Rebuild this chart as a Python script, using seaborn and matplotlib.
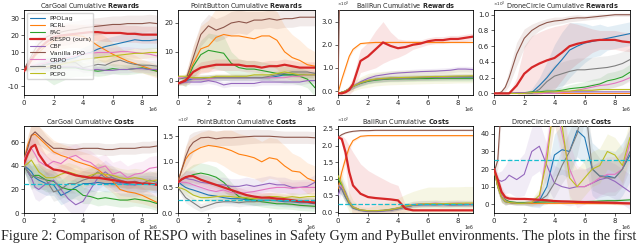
import numpy as np
import seaborn as sns
import matplotlib.pyplot as plt
from matplotlib.lines import Line2D
from matplotlib.ticker import FormatStrFormatter, FuncFormatter

# training steps (x 1e6)
steps = [0, 0.25, 0.5, 0.75, 1, 1.5, 2, 2.5, 3, 3.5, 4, 4.5, 5, 5.5, 6, 6.5, 7, 7.5, 8, 8.5, 9]
methods = ["PPOLag", "RCRL", "FAC", "RESPO (ours)", "CBF", "Vanilla PPO", "CRPO", "P3O", "PCPO"]

# ---- CarGoal rewards
cargoal_rew = [
    [0, 0.5, 1, 1.5, 2, 3, 4, 5, 6, 7, 9, 10, 12, 13.5, 14.5, 15.5, 16.5, 17.5, 17, 17, 17.5],
    [0, 2, 5, 8, 10, 14, 17, 19, 20, 20, 19.5, 17, 14, 11.5, 9, 7, 5, 3.5, 2, 0.5, -1],
    [0, 0, 0.5, 0.5, 1, 1, 1, 1, 1, 1, 0, -0.5, -1, -0.5, 0.5, 0, 0, 0.5, 1, 0, -1],
    [-1, 2, 6, 9, 12, 16, 19, 20, 20.5, 21, 21.5, 22, 22, 21.5, 21.5, 21.5, 21, 21, 20.5, 20.5, 20.5],
    [0, 0, 0.5, 0.5, 1, 1, 1.5, 1.5, 1.5, 1.5, 0.5, 0, 0, -0.5, -0.5, 0, 0, 0.5, 0.5, 0, 0],
    [0, 4, 8, 12, 15, 19, 21, 22, 23, 23.5, 24.5, 25, 25.5, 26, 26.5, 26.5, 27, 27, 27, 27.5, 27],
    [0, 1, 2, 2.5, 3, 4, 5, 6, 7, 8, 9, 9.5, 10, 10, 10, 10.5, 10.5, 10, 9.5, 9, 8],
    [0, 0.5, 1, 1.5, 2, 3, 3.5, 4, 4, 4, 1, 2, 3, 2.5, 4.5, 5.5, 4, 3, 2.5, 2.5, 2],
    [0, 0.2, 0.5, 0.8, 1, 1.5, 2, 3, 4, 5, 6, 6.5, 7, 7.5, 8, 8.5, 9, 9.5, 9.5, 10, 10],
]
cargoal_rew_sd = [
    [0, 1, 2, 3, 3, 4, 4, 4, 4, 4, 4, 5, 5, 5, 5, 5, 5, 5, 5, 5, 5],
    [0, 2, 3, 4, 5, 6, 7, 7, 7, 7, 7, 8, 8, 8, 7, 6, 5, 5, 4, 4, 4],
    [0, 1, 2, 3, 4, 7, 10, 8, 6, 5, 4, 3, 3, 3, 3, 3, 3, 3, 3, 3, 3],
    [1, 2, 3, 4, 5, 6, 6, 6, 6, 5, 5, 5, 5, 5, 5, 5, 5, 5, 5, 5, 5],
    [0, 1, 1, 1, 1, 2, 2, 2, 2, 2, 2, 2, 2, 2, 2, 2, 2, 2, 2, 2, 2],
    [0, 2, 3, 4, 5, 5, 5, 5, 5, 5, 5, 5, 5, 5, 5, 5, 5, 5, 5, 5, 5],
    [0, 1, 2, 2, 3, 3, 3, 3, 3, 3, 3, 3, 3, 3, 3, 3, 3, 3, 3, 3, 3],
    [0, 1, 1, 2, 2, 3, 3, 3, 3, 3, 3, 3, 3, 3, 3, 3, 3, 3, 3, 3, 3],
    [0, 1, 1, 2, 2, 3, 3, 3, 3, 3, 3, 3, 3, 3, 3, 3, 3, 3, 3, 3, 3],
]

# ---- PointButton rewards
pointbutton_rew = [
    [-1, -0.5, 0, 0.3, 0.5, 0.5, 1, 1, 1, 1, 1, 1, 1, 1, 1, 1.5, 2, 2, 2, 2, 2],
    [-1, -0.5, 0.5, 3, 6, 11, 12, 15, 16, 15.5, 15.5, 15, 14.5, 15.5, 15.5, 14, 10, 8, 7, 5.5, 5],
    [-1, -0.5, 0, 2, 5, 9, 10.5, 10, 9.5, 6, 4.5, 4, 4, 3.5, 3, 2.5, 2, 2, 1.5, 0.5, -2.5],
    [-1, -0.5, 0, 1.5, 3, 4.5, 5, 5.5, 5.5, 5.5, 5.5, 5, 5, 4.5, 5, 5, 5.5, 5, 4.5, 4.5, 4.5],
    [-1, -0.8, -0.5, -0.5, -0.5, -0.5, 0, -0.5, -1.5, -1, -1, -1, -1, -0.5, -0.5, -0.5, -0.5, -0.5, -0.5, 0, 0],
    [-1, -0.5, 0, 4, 8, 16, 19, 17.5, 18.5, 20, 20.5, 20, 21, 21, 21.5, 21, 21.5, 21.5, 22, 22, 22],
    [1, 1, 1, 0.8, 0.5, 0.5, 0.5, 1, 1, 1, 1, 1, 1, 1, 1, 1, 1, 1.5, 1.5, 2, 2],
    [0.5, 0.7, 1, 1, 1, 1, 1, 1, 1, 1, 1, 1, 1, 1, 1.5, 2, 2.5, 3, 3, 3, 2.5],
    [1.5, 1.5, 1.5, 1.2, 1, 1, 1, 1.5, 1.5, 1.5, 1.5, 1.5, 2, 2, 2, 2.5, 3, 2.5, 2, 2, 2],
]
pointbutton_rew_sd = [
    [0.5, 0.5, 0.5, 0.5, 0.5, 1, 1, 1, 1, 1, 1, 1, 1, 1, 1, 1, 1, 1, 1, 1, 1],
    [0.5, 1, 2, 4, 6, 8, 9, 10, 10, 10, 10, 10, 10, 10, 10, 10, 9, 8, 7, 6, 5],
    [0.5, 1, 2, 3, 4, 5, 6, 6, 6, 4, 3, 3, 3, 3, 3, 3, 3, 3, 3, 3, 3],
    [0.5, 0.5, 1, 1, 1.5, 2, 2, 2, 2, 2, 2, 2, 2, 2, 2, 2, 2, 2, 2, 2, 2],
    [0.5, 0.5, 0.5, 1, 1, 1, 1, 1, 1, 1, 1, 1, 1, 1, 1, 1, 1, 1, 1, 1, 1],
    [0.5, 1, 2, 3, 4, 4, 4, 4, 4, 4, 4, 4, 3, 3, 3, 3, 3, 3, 3, 3, 3],
    [0.5, 0.5, 1, 1, 1, 1, 1, 1, 1, 1, 1, 1, 1, 1, 1, 1, 1, 1, 1, 1, 1],
    [0.5, 0.5, 1, 1, 1, 1, 1, 1, 1, 1, 1, 1, 1, 1, 1, 1, 1, 1, 1, 1, 1],
    [0.5, 0.5, 1, 1, 1, 1, 1, 1, 1, 1, 1, 1, 1, 1, 1, 1, 1, 1, 1, 1, 1],
]

# ---- BallRun rewards (x 10^3)
ballrun_rew = [
    [-0.1, -0.05, 0, 0.1, 0.2, 0.35, 0.45, 0.5, 0.52, 0.55, 0.55, 0.56, 0.57, 0.58, 0.58, 0.59, 0.6, 0.6, 0.6, 0.6, 0.6],
    [-0.1, 0.5, 1.0, 1.5, 1.8, 2.05, 2.08, 2.1, 2.1, 2.1, 2.1, 2.1, 2.1, 2.1, 2.1, 2.1, 2.1, 2.1, 2.1, 2.1, 2.1],
    [-0.1, -0.05, 0, 0.1, 0.2, 0.33, 0.42, 0.47, 0.5, 0.52, 0.52, 0.53, 0.53, 0.54, 0.54, 0.55, 0.55, 0.55, 0.55, 0.55, 0.55],
    [-0.1, -0.1, -0.05, 0.05, 0.3, 1.3, 1.5, 1.8, 2.1, 1.95, 1.85, 1.9, 2.0, 2.05, 2.15, 2.2, 2.2, 2.25, 2.25, 2.3, 2.35],
    [-0.1, -0.05, 0, 0.1, 0.2, 0.4, 0.55, 0.65, 0.7, 0.75, 0.78, 0.8, 0.82, 0.84, 0.85, 0.86, 0.88, 0.9, 0.95, 0.95, 0.93],
    [-0.1, 10, 20, 20, 20, 20, 20, 20, 20, 20, 20, 20, 20, 20, 20, 20, 20, 20, 20, 20, 20],
    [-0.1, -0.05, 0, 0.1, 0.2, 0.35, 0.45, 0.5, 0.53, 0.55, 0.56, 0.57, 0.58, 0.58, 0.59, 0.6, 0.6, 0.61, 0.61, 0.62, 0.62],
    [-0.1, -0.05, 0, 0.1, 0.2, 0.35, 0.45, 0.5, 0.53, 0.55, 0.56, 0.57, 0.58, 0.59, 0.6, 0.6, 0.61, 0.62, 0.62, 0.63, 0.63],
    [-0.1, -0.05, 0, 0.1, 0.2, 0.36, 0.46, 0.52, 0.55, 0.57, 0.58, 0.59, 0.6, 0.61, 0.62, 0.63, 0.63, 0.64, 0.65, 0.65, 0.66],
]
ballrun_rew_sd = [
    [0, 0.03, 0.05, 0.08, 0.1, 0.12, 0.12, 0.12, 0.12, 0.12, 0.12, 0.12, 0.12, 0.12, 0.12, 0.12, 0.12, 0.12, 0.12, 0.12, 0.12],
    [0, 0.1, 0.15, 0.1, 0.08, 0.05, 0.05, 0.05, 0.05, 0.05, 0.05, 0.05, 0.05, 0.05, 0.05, 0.05, 0.05, 0.05, 0.05, 0.05, 0.05],
    [0, 0.03, 0.05, 0.08, 0.1, 0.12, 0.12, 0.12, 0.12, 0.12, 0.12, 0.12, 0.12, 0.12, 0.12, 0.12, 0.12, 0.12, 0.12, 0.12, 0.12],
    [0, 0.05, 0.1, 0.2, 0.3, 0.5, 0.6, 0.8, 0.9, 0.6, 0.4, 0.3, 0.2, 0.15, 0.15, 0.15, 0.15, 0.15, 0.15, 0.15, 0.15],
    [0, 0.03, 0.05, 0.08, 0.1, 0.12, 0.12, 0.12, 0.12, 0.12, 0.12, 0.12, 0.12, 0.12, 0.12, 0.12, 0.12, 0.12, 0.12, 0.12, 0.12],
    [0, 0, 0, 0, 0, 0, 0, 0, 0, 0, 0, 0, 0, 0, 0, 0, 0, 0, 0, 0, 0],
    [0, 0.03, 0.05, 0.08, 0.1, 0.12, 0.12, 0.12, 0.12, 0.12, 0.12, 0.12, 0.12, 0.12, 0.12, 0.12, 0.12, 0.12, 0.12, 0.12, 0.12],
    [0, 0.03, 0.05, 0.08, 0.1, 0.12, 0.12, 0.12, 0.12, 0.12, 0.12, 0.12, 0.12, 0.12, 0.12, 0.12, 0.12, 0.12, 0.12, 0.12, 0.12],
    [0, 0.05, 0.1, 0.15, 0.2, 0.25, 0.3, 0.3, 0.3, 0.3, 0.3, 0.3, 0.3, 0.3, 0.3, 0.3, 0.3, 0.3, 0.3, 0.3, 0.3],
]

# ---- DroneCircle rewards (x 10^3)
dronecircle_rew = [
    [0, 0, 0, 0, 0, 0, 0, 0.01, 0.1, 0.2, 0.32, 0.43, 0.55, 0.6, 0.64, 0.66, 0.68, 0.7, 0.72, 0.74, 0.76],
    [0, 0, 0, 0, 0, 0, 0, 0, 0, 0, 0, 0, 0, 0, 0, 0, 0, 0, 0, 0, 0],
    [0, 0, 0, 0, 0, 0, 0.01, 0.02, 0.02, 0.03, 0.03, 0.04, 0.06, 0.07, 0.08, 0.1, 0.12, 0.16, 0.18, 0.21, 0.27],
    [0, 0, 0, 0, 0, 0.1, 0.25, 0.33, 0.38, 0.42, 0.45, 0.52, 0.6, 0.63, 0.65, 0.67, 0.68, 0.68, 0.68, 0.66, 0.65],
    [0, 0, 0, 0, 0, 0.01, 0.01, 0.01, 0.01, 0.01, 0.02, 0.02, 0.02, 0.02, 0.02, 0.02, 0.02, 0.02, 0.02, 0.02, 0.02],
    [0, 0, 0.02, 0.08, 0.2, 0.5, 0.7, 0.8, 0.86, 0.9, 0.92, 0.93, 0.95, 0.96, 0.96, 0.97, 0.98, 0.99, 1.0, 1.0, 1.0],
    [0, 0, 0, 0, 0, 0, 0, 0, 0, 0, 0, 0.01, 0.02, 0.04, 0.06, 0.08, 0.1, 0.11, 0.13, 0.16, 0.2],
    [0, 0, 0, 0, 0, 0, 0, 0, 0.05, 0.15, 0.22, 0.25, 0.28, 0.3, 0.3, 0.31, 0.32, 0.33, 0.35, 0.38, 0.43],
    [0, 0, 0, 0, 0, 0, 0, 0.01, 0.01, 0.02, 0.02, 0.03, 0.03, 0.04, 0.04, 0.04, 0.05, 0.05, 0.05, 0.05, 0.05],
]
dronecircle_rew_sd = [
    [0, 0, 0, 0, 0, 0, 0, 0.05, 0.1, 0.2, 0.3, 0.35, 0.35, 0.3, 0.25, 0.2, 0.2, 0.15, 0.15, 0.15, 0.15],
    [0, 0, 0, 0, 0, 0, 0, 0, 0, 0, 0, 0, 0, 0, 0, 0, 0, 0, 0, 0, 0],
    [0, 0, 0, 0, 0, 0, 0.01, 0.02, 0.02, 0.03, 0.03, 0.04, 0.05, 0.06, 0.07, 0.08, 0.08, 0.1, 0.1, 0.1, 0.1],
    [0, 0, 0, 0, 0, 0.1, 0.35, 0.4, 0.4, 0.4, 0.4, 0.35, 0.3, 0.25, 0.2, 0.15, 0.12, 0.12, 0.12, 0.12, 0.12],
    [0, 0, 0, 0, 0, 0.01, 0.01, 0.01, 0.01, 0.01, 0.01, 0.01, 0.01, 0.01, 0.01, 0.01, 0.01, 0.01, 0.01, 0.01, 0.01],
    [0, 0, 0.02, 0.05, 0.1, 0.15, 0.12, 0.08, 0.06, 0.05, 0.05, 0.04, 0.04, 0.04, 0.03, 0.03, 0.03, 0.02, 0.02, 0.02, 0.02],
    [0, 0, 0, 0, 0, 0, 0, 0, 0, 0, 0, 0.01, 0.02, 0.03, 0.04, 0.05, 0.05, 0.05, 0.05, 0.05, 0.05],
    [0, 0, 0, 0, 0, 0, 0, 0, 0.05, 0.1, 0.15, 0.15, 0.15, 0.15, 0.15, 0.15, 0.15, 0.15, 0.15, 0.15, 0.15],
    [0, 0, 0, 0, 0, 0, 0, 0.01, 0.01, 0.01, 0.01, 0.01, 0.01, 0.01, 0.01, 0.01, 0.01, 0.01, 0.01, 0.01, 0.01],
]

# ---- CarGoal costs
cargoal_cost = [
    [40, 38, 35, 30, 28, 25, 24, 15, 18, 22, 25, 25, 26, 25, 25, 26, 25, 24, 25, 25, 24],
    [45, 58, 66, 67, 64, 58, 52, 49, 47, 44, 42, 40, 37, 32, 27, 20, 18, 17, 15, 12, 9],
    [40, 35, 30, 32, 32, 28, 27, 22, 20, 20, 15, 14, 12, 13, 12, 11, 11, 12, 11, 10, 8],
    [42, 50, 56, 58, 50, 41, 37, 36, 34, 32, 31, 30, 30, 29, 28, 27, 26, 26, 25, 25, 24],
    [42, 35, 30, 22, 20, 25, 28, 20, 12, 7, 10, 20, 30, 35, 30, 25, 24, 24, 25, 24, 25],
    [45, 55, 66, 69, 66, 60, 55, 55, 54, 54, 55, 55, 55, 54, 54, 55, 55, 55, 56, 56, 57],
    [45, 52, 55, 50, 44, 40, 44, 42, 47, 49, 45, 43, 38, 40, 33, 35, 30, 33, 34, 38, 39],
    [40, 36, 32, 31, 30, 28, 18, 20, 25, 25, 28, 30, 35, 30, 30, 28, 26, 27, 25, 28, 26],
    [40, 42, 45, 40, 35, 30, 30, 33, 35, 33, 30, 32, 34, 33, 32, 30, 29, 30, 29, 27, 28],
]
cargoal_cost_sd = [
    [5, 8, 10, 10, 10, 10, 9, 8, 8, 8, 8, 7, 7, 7, 7, 7, 7, 7, 7, 7, 7],
    [5, 8, 10, 10, 10, 10, 10, 10, 10, 10, 10, 10, 10, 10, 10, 9, 8, 8, 7, 6, 5],
    [5, 8, 10, 10, 10, 10, 9, 8, 8, 8, 7, 6, 6, 6, 6, 6, 6, 6, 6, 6, 6],
    [5, 8, 10, 10, 10, 8, 7, 6, 6, 5, 5, 5, 5, 5, 5, 5, 5, 5, 5, 5, 5],
    [5, 8, 10, 10, 10, 10, 10, 10, 10, 10, 10, 10, 10, 10, 10, 10, 10, 10, 10, 10, 10],
    [5, 8, 10, 10, 8, 6, 5, 5, 5, 5, 5, 5, 5, 5, 5, 5, 5, 5, 5, 5, 5],
    [5, 8, 10, 10, 10, 10, 10, 10, 10, 10, 10, 10, 10, 10, 10, 10, 10, 10, 10, 10, 10],
    [5, 8, 10, 10, 10, 8, 8, 8, 8, 8, 8, 8, 8, 8, 8, 8, 8, 8, 8, 8, 8],
    [5, 8, 10, 10, 10, 8, 8, 8, 8, 8, 8, 8, 8, 8, 8, 8, 8, 8, 8, 8, 8],
]

# ---- PointButton costs (x 10^2)
pointbutton_cost = [
    [0.62, 0.55, 0.5, 0.47, 0.45, 0.4, 0.35, 0.33, 0.3, 0.28, 0.28, 0.26, 0.25, 0.25, 0.25, 0.24, 0.22, 0.22, 0.2, 0.2, 0.18],
    [0.62, 0.85, 1.05, 1.15, 1.2, 1.28, 1.32, 1.3, 1.27, 1.22, 1.15, 1.12, 1.08, 1.0, 1.08, 1.05, 0.92, 0.82, 0.8, 0.68, 0.62],
    [0.6, 0.65, 0.7, 0.72, 0.75, 0.78, 0.75, 0.7, 0.6, 0.45, 0.32, 0.28, 0.25, 0.22, 0.2, 0.18, 0.18, 0.17, 0.15, 0.14, 0.13],
    [0.6, 0.66, 0.7, 0.72, 0.72, 0.65, 0.6, 0.55, 0.5, 0.45, 0.4, 0.35, 0.32, 0.3, 0.3, 0.28, 0.27, 0.25, 0.23, 0.22, 0.2],
    [0.62, 0.65, 0.68, 0.66, 0.65, 0.6, 0.58, 0.55, 0.55, 0.52, 0.52, 0.55, 0.52, 0.55, 0.58, 0.55, 0.55, 0.5, 0.5, 0.52, 0.6],
    [0.62, 0.85, 1.1, 1.28, 1.38, 1.47, 1.48, 1.45, 1.47, 1.47, 1.48, 1.49, 1.5, 1.5, 1.5, 1.49, 1.48, 1.48, 1.48, 1.48, 1.47],
    [0.6, 0.6, 0.6, 0.58, 0.55, 0.5, 0.45, 0.42, 0.45, 0.4, 0.38, 0.4, 0.42, 0.45, 0.48, 0.5, 0.5, 0.48, 0.5, 0.5, 0.5],
    [0.5, 0.4, 0.3, 0.25, 0.2, 0.1, 0.15, 0.2, 0.22, 0.22, 0.2, 0.22, 0.22, 0.24, 0.25, 0.25, 0.24, 0.22, 0.22, 0.22, 0.22],
    [0.5, 0.48, 0.45, 0.4, 0.35, 0.3, 0.3, 0.32, 0.33, 0.32, 0.3, 0.3, 0.28, 0.3, 0.32, 0.32, 0.3, 0.32, 0.3, 0.32, 0.32],
]
pointbutton_cost_sd = [
    [0.05, 0.08, 0.1, 0.1, 0.1, 0.1, 0.1, 0.1, 0.1, 0.1, 0.1, 0.1, 0.1, 0.1, 0.1, 0.1, 0.1, 0.1, 0.1, 0.1, 0.1],
    [0.05, 0.15, 0.25, 0.3, 0.3, 0.3, 0.3, 0.3, 0.35, 0.4, 0.4, 0.4, 0.4, 0.4, 0.4, 0.4, 0.4, 0.35, 0.3, 0.3, 0.3],
    [0.05, 0.1, 0.15, 0.18, 0.2, 0.2, 0.2, 0.2, 0.18, 0.15, 0.12, 0.1, 0.1, 0.1, 0.1, 0.1, 0.1, 0.1, 0.1, 0.1, 0.1],
    [0.05, 0.1, 0.12, 0.12, 0.12, 0.12, 0.12, 0.1, 0.1, 0.1, 0.1, 0.1, 0.1, 0.1, 0.1, 0.1, 0.1, 0.1, 0.1, 0.1, 0.1],
    [0.05, 0.1, 0.15, 0.15, 0.15, 0.15, 0.15, 0.15, 0.15, 0.15, 0.15, 0.15, 0.15, 0.15, 0.15, 0.15, 0.15, 0.15, 0.15, 0.15, 0.15],
    [0.05, 0.1, 0.2, 0.25, 0.2, 0.15, 0.15, 0.15, 0.15, 0.15, 0.15, 0.14, 0.14, 0.13, 0.13, 0.12, 0.12, 0.12, 0.12, 0.12, 0.12],
    [0.05, 0.1, 0.12, 0.12, 0.12, 0.12, 0.12, 0.12, 0.12, 0.12, 0.12, 0.12, 0.12, 0.12, 0.12, 0.12, 0.12, 0.12, 0.12, 0.12, 0.12],
    [0.05, 0.08, 0.1, 0.1, 0.1, 0.08, 0.08, 0.08, 0.08, 0.08, 0.08, 0.08, 0.08, 0.08, 0.08, 0.08, 0.08, 0.08, 0.08, 0.08, 0.08],
    [0.05, 0.08, 0.1, 0.1, 0.1, 0.08, 0.08, 0.08, 0.08, 0.08, 0.08, 0.08, 0.08, 0.08, 0.08, 0.08, 0.08, 0.08, 0.08, 0.08, 0.08],
]

# ---- BallRun costs (x 10^2)
ballrun_cost = [
    [0.8, 0.7, 0.45, 0.25, 0.12, 0.05, 0.03, 0.03, 0.04, 0.06, 0.1, 0.15, 0.2, 0.22, 0.22, 0.22, 0.23, 0.22, 0.22, 0.22, 0.23],
    [0.7, 1.2, 1.6, 1.95, 2.15, 2.28, 2.3, 2.3, 2.3, 2.3, 2.3, 2.3, 2.3, 2.3, 2.3, 2.3, 2.3, 2.3, 2.3, 2.3, 2.3],
    [1.0, 0.8, 0.5, 0.3, 0.15, 0.06, 0.04, 0.04, 0.05, 0.08, 0.12, 0.18, 0.22, 0.24, 0.25, 0.25, 0.24, 0.25, 0.25, 0.25, 0.25],
    [2.25, 2.2, 1.8, 1.2, 0.8, 0.55, 0.45, 0.42, 0.4, 0.38, 0.35, 0.1, 0.05, 0.05, 0.05, 0.05, 0.05, 0.05, 0.05, 0.05, 0.05],
    [0.5, 0.8, 0.6, 0.3, 0.15, 0.05, 0.02, 0.02, 0.03, 0.05, 0.1, 0.16, 0.2, 0.22, 0.22, 0.22, 0.22, 0.21, 0.22, 0.22, 0.22],
    [2.25, 2.33, 2.38, 2.41, 2.43, 2.45, 2.45, 2.46, 2.46, 2.46, 2.46, 2.46, 2.46, 2.46, 2.46, 2.46, 2.46, 2.46, 2.46, 2.46, 2.46],
    [0.8, 0.75, 0.5, 0.3, 0.15, 0.06, 0.04, 0.04, 0.05, 0.07, 0.12, 0.18, 0.23, 0.25, 0.25, 0.27, 0.25, 0.26, 0.27, 0.25, 0.26],
    [0.8, 0.7, 0.45, 0.25, 0.12, 0.05, 0.03, 0.03, 0.04, 0.06, 0.1, 0.15, 0.2, 0.22, 0.23, 0.22, 0.23, 0.22, 0.22, 0.23, 0.22],
    [1.1, 0.85, 0.55, 0.3, 0.15, 0.06, 0.04, 0.04, 0.05, 0.07, 0.12, 0.18, 0.22, 0.24, 0.25, 0.25, 0.25, 0.26, 0.26, 0.27, 0.27],
]
ballrun_cost_sd = [
    [0.2, 0.2, 0.15, 0.1, 0.05, 0.03, 0.03, 0.03, 0.03, 0.05, 0.05, 0.05, 0.05, 0.05, 0.05, 0.05, 0.05, 0.05, 0.05, 0.05, 0.05],
    [0.2, 0.2, 0.15, 0.1, 0.05, 0.03, 0.03, 0.03, 0.03, 0.03, 0.03, 0.03, 0.03, 0.03, 0.03, 0.03, 0.03, 0.03, 0.03, 0.03, 0.03],
    [0.2, 0.2, 0.15, 0.1, 0.05, 0.03, 0.03, 0.03, 0.03, 0.05, 0.05, 0.08, 0.1, 0.1, 0.1, 0.1, 0.1, 0.1, 0.1, 0.1, 0.1],
    [0, 0.1, 0.4, 0.8, 1.0, 0.9, 0.8, 0.7, 0.6, 0.5, 0.45, 0.1, 0.03, 0.02, 0.02, 0.02, 0.02, 0.02, 0.02, 0.02, 0.02],
    [0.2, 0.2, 0.15, 0.1, 0.05, 0.03, 0.03, 0.03, 0.03, 0.05, 0.05, 0.05, 0.05, 0.05, 0.05, 0.05, 0.05, 0.05, 0.05, 0.05, 0.05],
    [0.02, 0.02, 0.02, 0.02, 0.02, 0.02, 0.02, 0.02, 0.02, 0.02, 0.02, 0.02, 0.02, 0.02, 0.02, 0.02, 0.02, 0.02, 0.02, 0.02, 0.02],
    [0.2, 0.2, 0.15, 0.1, 0.05, 0.03, 0.03, 0.03, 0.03, 0.05, 0.05, 0.08, 0.1, 0.1, 0.1, 0.1, 0.1, 0.1, 0.1, 0.1, 0.1],
    [0.2, 0.2, 0.15, 0.1, 0.05, 0.03, 0.03, 0.03, 0.03, 0.05, 0.05, 0.05, 0.05, 0.05, 0.05, 0.05, 0.05, 0.05, 0.05, 0.05, 0.05],
    [0.3, 0.3, 0.3, 0.3, 0.2, 0.1, 0.1, 0.15, 0.2, 0.25, 0.3, 0.35, 0.4, 0.45, 0.5, 0.5, 0.5, 0.5, 0.5, 0.5, 0.5],
]

# ---- DroneCircle costs
dronecircle_cost = [
    [20, 10, 4, 1.5, 1, 0.5, 0.5, 0.5, 2, 10, 28, 31, 30, 42, 38, 20, 16, 16, 15, 20, 28],
    [20, 10, 4, 2, 1, 0.5, 0.5, 0.5, 0.5, 0.5, 0.5, 0.5, 0.5, 0.5, 0.4, 0.4, 0.4, 0.4, 0.3, 0.3, 0.3],
    [20, 12, 5, 2.5, 1.5, 1, 1, 1, 1.2, 1.3, 1.3, 1.5, 1.5, 1.5, 1.5, 1.6, 1.8, 2, 2, 2.2, 2.5],
    [20, 14, 7, 4, 3.2, 3, 3, 2.8, 2.5, 2.2, 1.8, 1.6, 1.5, 1.3, 1.2, 1.1, 1, 0.9, 0.8, 0.6, 0.5],
    [20, 14, 13, 14, 16.5, 14, 17, 30, 33, 22, 12, 10, 9, 10, 10, 12, 14, 15, 13, 10, 7],
    [18, 25, 60, 100, 100, 100, 100, 100, 100, 100, 100, 100, 100, 100, 100, 100, 100, 100, 100, 100, 100],
    [20, 10, 5, 2, 1, 0.5, 0.5, 1, 3, 30, 60, 40, 20, 10, 10, 12, 15, 17, 17, 20, 35],
    [20, 10, 4, 1.5, 1, 0.5, 0.5, 1, 2, 5, 12, 22, 30, 40, 60, 20, 16, 15, 15, 20, 30],
    [20, 10, 4, 1.5, 1, 0.5, 0.5, 1, 5, 25, 60, 45, 15, 10, 15, 20, 22, 30, 28, 22, 38],
]
dronecircle_cost_sd = [
    [2, 3, 3, 2, 1, 1, 1, 2, 4, 8, 12, 14, 15, 15, 15, 15, 15, 15, 15, 15, 15],
    [2, 3, 3, 2, 1, 0.5, 0.5, 0.5, 0.5, 0.5, 0.5, 0.5, 0.5, 0.5, 0.5, 0.5, 0.5, 0.5, 0.5, 0.5, 0.5],
    [2, 3, 3, 2, 1, 1, 1, 1, 1, 1, 1, 1, 1, 1, 1, 1, 1, 1, 1, 1, 1],
    [2, 3, 3, 2, 1.5, 1, 1, 1, 1, 1, 1, 1, 1, 1, 1, 1, 1, 1, 1, 1, 1],
    [2, 4, 6, 8, 10, 10, 12, 14, 14, 12, 10, 10, 10, 10, 10, 10, 10, 10, 10, 10, 10],
    [2, 5, 10, 10, 10, 10, 10, 10, 10, 10, 10, 10, 10, 10, 10, 10, 10, 10, 10, 10, 10],
    [2, 3, 3, 2, 1, 1, 1, 2, 4, 10, 15, 15, 15, 12, 10, 10, 10, 10, 10, 10, 10],
    [2, 3, 3, 2, 1, 1, 1, 2, 3, 5, 8, 10, 12, 12, 12, 12, 10, 10, 10, 10, 10],
    [2, 3, 3, 2, 1, 1, 1, 2, 4, 10, 15, 15, 12, 10, 10, 10, 10, 10, 10, 10, 10],
]

titles = ["CarGoal", "PointButton", "BallRun", "DroneCircle"]
threshold = [25, 0.25, 0.25, 25]

sns.set_style("ticks")
plt.rcParams["font.family"] = ["DejaVu Sans"]
palette = sns.color_palette("tab10")

fig = plt.figure(figsize=(6.4, 2.43), dpi=100)
W, H = 640, 243


def make_ax(left, right, top, bottom):
    return fig.add_axes([left / W, 1 - bottom / H, (right - left) / W, (bottom - top) / H])


cols = [(24, 157), (178, 315), (338, 473), (494, 630)]
rows = [(10, 95), (126, 213)]

panels = [
    (cargoal_rew, cargoal_rew_sd, (-15, 35), [-10, 0, 10, 20, 30], None, "%g"),
    (pointbutton_rew, pointbutton_rew_sd, (-5, 24.5), [0, 10, 20], None, "%g"),
    (ballrun_rew, ballrun_rew_sd, (-0.17, 3.5), [0, 1, 2, 3], r"$\times10^{3}$", "%.1f"),
    (dronecircle_rew, dronecircle_rew_sd, (-0.02, 1.06), [0, 0.2, 0.4, 0.6, 0.8, 1.0], r"$\times10^{3}$", "%.1f"),
    (cargoal_cost, cargoal_cost_sd, (0, 74), [0, 20, 40, 60], None, "%g"),
    (pointbutton_cost, pointbutton_cost_sd, (0, 1.7), [0, 0.5, 1.0, 1.5], r"$\times10^{2}$", "%.1f"),
    (ballrun_cost, ballrun_cost_sd, (-0.03, 2.59), [0, 0.5, 1.0, 1.5, 2.0, 2.5], r"$\times10^{2}$", "%.1f"),
    (dronecircle_cost, dronecircle_cost_sd, (-5, 44.5), [0, 10, 20, 30, 40], None, "%g"),
]

x = np.array(steps) * 1e6
for k, (means, sds, ylim, yticks, scale, fmt) in enumerate(panels):
    r, c = divmod(k, 4)
    ax = make_ax(cols[c][0], cols[c][1], rows[r][0], rows[r][1])
    for i, m in enumerate(methods):
        y = np.array(means[i], dtype=float)
        s = np.array(sds[i], dtype=float)
        ax.fill_between(x, y - s, y + s, color=palette[i], alpha=0.12, lw=0)
    for i, m in enumerate(methods):
        respo = i == 3
        sns.lineplot(x=x, y=means[i], color=palette[i], lw=1.6 if respo else 0.8,
                     ax=ax, zorder=5 if respo else 3)
    if r == 1:
        ax.axhline(threshold[c], color=palette[9], ls="--", lw=0.9, zorder=6)
    ax.set_xlim(0, 9e6)
    ax.set_ylim(*ylim)
    ax.set_xticks([0, 2e6, 4e6, 6e6, 8e6])
    ax.xaxis.set_major_formatter(FuncFormatter(lambda v, p: "%d" % round(v / 1e6)))
    ax.set_yticks(yticks)
    ax.yaxis.set_major_formatter(FormatStrFormatter(fmt))
    ax.tick_params(labelsize=5, length=2, width=0.5, pad=1.5)
    ax.text(1.0, -0.14, "1e6", transform=ax.transAxes, fontsize=3.3, ha="right", va="top")
    for sp in ax.spines.values():
        sp.set_linewidth(0.6)
        sp.set_color("black")
    word = "Rewards" if r == 0 else "Costs"
    ax.set_title(titles[c] + " Cumulative " + r"$\bf{" + word + "}$", fontsize=4.7, pad=1.5)
    if scale:
        ax.text(-0.01, 1.01, scale, transform=ax.transAxes, fontsize=3, va="bottom", ha="left")
    if k == 0:
        handles = [Line2D([], [], color=palette[i], lw=1.6 if i == 3 else 0.8) for i in range(9)]
        ax.legend(handles, methods, loc="upper left", fontsize=4.5, handlelength=2.4,
                  labelspacing=0.25, borderpad=0.4, framealpha=0.8, edgecolor="0.8")

fig.text(0.002, 1 - 239.5 / H,
         "Figure 2: Comparison of RESPO with baselines in Safety Gym and PyBullet environments. The plots in the first",
         family="Liberation Serif", fontsize=10.2, va="baseline", ha="left")

fig.savefig("out.png", dpi=100)
